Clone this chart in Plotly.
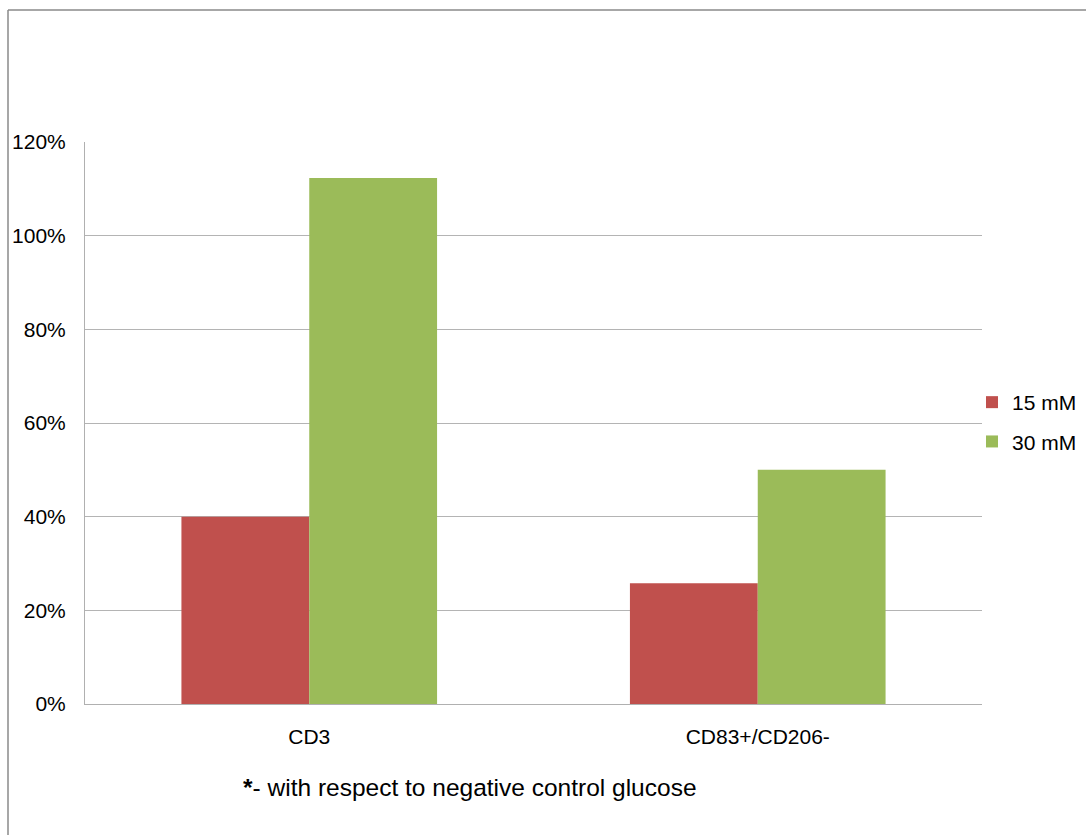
import plotly.graph_objects as go

categories = ["CD3", "CD83+/CD206-"]
series_names = ["15 mM", "30 mM"]
values_15mm = [0.40, 0.258]
values_30mm = [1.123, 0.50]
colors = ["#C0504D", "#9BBB59"]
y_ticks = [0, 0.2, 0.4, 0.6, 0.8, 1.0, 1.2]
footnote = "<b>*</b>- with respect to negative control glucose"

W, H = 1086, 835
L, R, T, B = 85, 104, 142, 131
pw, ph = W - L - R, H - T - B

font = dict(family="Liberation Sans, Arial, sans-serif", size=21, color="#000000")

fig = go.Figure()
for name, vals, col in zip(series_names, [values_15mm, values_30mm], colors):
    fig.add_trace(go.Bar(
        x=categories, y=vals, name=name, legendgroup=name,
        marker=dict(color=col, line=dict(width=0)),
    ))

def px_x(p):
    return (p - L) / pw

def px_y(p):
    return (H - B - p) / ph

# outer frame: top and left edges
fig.add_shape(type="line", xref="paper", yref="paper",
              x0=px_x(8), x1=px_x(W + 5), y0=px_y(10), y1=px_y(10),
              line=dict(color="#8a8a8a", width=1.5))
fig.add_shape(type="line", xref="paper", yref="paper",
              x0=px_x(8), x1=px_x(8), y0=px_y(10), y1=px_y(H + 5),
              line=dict(color="#8a8a8a", width=1.5))

fig.add_annotation(text=footnote, xref="paper", yref="paper",
                   x=px_x(470), y=px_y(787), xanchor="center", yanchor="middle",
                   showarrow=False, font=dict(family=font["family"], size=24.5, color="#000"))

fig.update_layout(
    width=W, height=H,
    margin=dict(l=L, r=R, t=T, b=B, pad=0, autoexpand=False),
    paper_bgcolor="white", plot_bgcolor="white",
    font=font,
    barmode="group", bargap=0.43, bargroupgap=0,
    showlegend=True,
    legend=dict(x=px_x(972), y=px_y(382), xanchor="left", yanchor="top",
                font=font, tracegroupgap=9, traceorder="grouped",
                bgcolor="rgba(0,0,0,0)"),
    xaxis=dict(showgrid=False, showline=True, linecolor="#b0b0b0", linewidth=1,
               ticks="", ticklabelstandoff=14, tickfont=font, zeroline=False,
               automargin=False),
    yaxis=dict(range=[0, 1.2], tickvals=y_ticks, tickformat=".0%",
               showgrid=True, gridcolor="#b4b4b4", gridwidth=1,
               showline=True, linecolor="#b0b0b0", linewidth=1,
               ticks="", ticklabelstandoff=14, tickfont=font, zeroline=False,
               automargin=False),
)

fig.write_html("out.html")
